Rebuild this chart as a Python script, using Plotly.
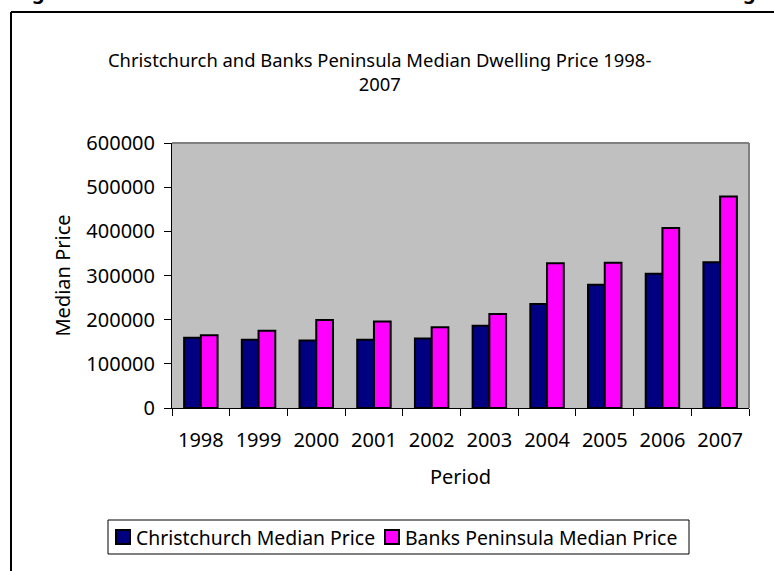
import plotly.graph_objects as go

years = ["1998", "1999", "2000", "2001", "2002", "2003", "2004", "2005", "2006", "2007"]
christchurch = [159000, 154500, 153000, 154500, 157500, 186000, 235500, 279000, 304000, 330000]
banks = [165000, 175000, 199000, 196000, 183000, 213000, 328000, 329000, 407500, 479000]
series_names = ["Christchurch Median Price", "Banks Peninsula Median Price"]
series_colors = ["#000080", "#FF00FF"]
y_ticks = [0, 100000, 200000, 300000, 400000, 500000, 600000]

FONT = "Noto Sans"
FS = 20
W, H = 774, 571
L, R, T, B = 172, 749, 143, 408

def px_x(px):
    return (px - L) / (R - L)

def px_y(py):
    return (B - py) / (B - T)

fig = go.Figure()
for name, vals, col in zip(series_names, [christchurch, banks], series_colors):
    fig.add_trace(go.Bar(x=years, y=vals, name=name, showlegend=False,
                         marker=dict(color=col, line=dict(color="black", width=2))))

fig.update_layout(
    width=W, height=H,
    margin=dict(l=L, r=W - R, t=T, b=H - B, pad=0),
    paper_bgcolor="white",
    plot_bgcolor="#C0C0C0",
    barmode="group",
    bargap=0.42,
    bargroupgap=0,
    font=dict(family=FONT, size=FS, color="black"),
    showlegend=False,
)
fig.update_xaxes(
    type="category", showgrid=False, showline=True, linecolor="black", linewidth=1,
    ticks="outside", tickson="boundaries", ticklen=7, tickcolor="black",
    ticklabelstandoff=14,
    tickfont=dict(family=FONT, size=FS),
    title=dict(text="Period", font=dict(family=FONT, size=FS), standoff=17),
)
fig.update_yaxes(
    range=[0, 600000], tickvals=y_ticks, ticktext=[str(v) for v in y_ticks],
    showgrid=False, showline=True, linecolor="black", linewidth=1,
    ticks="outside", ticklen=7, tickcolor="black",
    ticklabelstandoff=5,
    tickfont=dict(family=FONT, size=FS),
    title=dict(text="Median Price", font=dict(family=FONT, size=FS), standoff=10),
    zeroline=False,
)

shapes = [
    dict(type="line", xref="paper", yref="paper", x0=0, x1=1, y0=1, y1=1,
         line=dict(color="#808080", width=2)),
    dict(type="line", xref="paper", yref="paper", x0=1, x1=1, y0=0, y1=1,
         line=dict(color="#808080", width=2)),
    # outer chart frame
    dict(type="line", xref="paper", yref="paper", x0=px_x(11), x1=px_x(790),
         y0=px_y(12), y1=px_y(12), line=dict(color="black", width=2)),
    dict(type="line", xref="paper", yref="paper", x0=px_x(11), x1=px_x(11),
         y0=px_y(12), y1=px_y(600), line=dict(color="black", width=2)),
    # legend box
    dict(type="rect", xref="paper", yref="paper", x0=px_x(108), x1=px_x(689),
         y0=px_y(520), y1=px_y(554), line=dict(color="black", width=1),
         fillcolor="white", layer="above"),
]
legend_sq = [(116, 134), (385, 403)]
for (sx, tx), name, col in zip(legend_sq, series_names, series_colors):
    shapes.append(dict(type="rect", xref="paper", yref="paper",
                       x0=px_x(sx), x1=px_x(sx + 14), y0=px_y(530), y1=px_y(544),
                       fillcolor=col, line=dict(color="black", width=2), layer="above"))
    fig.add_annotation(text=name, xref="paper", yref="paper", x=px_x(tx), y=px_y(537),
                       xanchor="left", yanchor="middle", showarrow=False,
                       font=dict(family=FONT, size=19.4))
fig.update_layout(shapes=shapes)

fig.add_annotation(
    text="Christchurch and Banks Peninsula Median Dwelling Price 1998-<br>2007",
    xref="paper", yref="paper", x=px_x(379), y=px_y(71),
    xanchor="center", yanchor="middle", showarrow=False,
    font=dict(family=FONT, size=18.4), align="center",
)
for gx in (38, 749):
    fig.add_annotation(text="<b>g</b>", xref="paper", yref="paper",
                       x=px_x(gx), y=px_y(-8), xanchor="center", yanchor="middle",
                       showarrow=False, font=dict(family=FONT, size=20))

fig.write_html("out.html", post_script="document.body.style.margin='0';",
               config={"displayModeBar": False})
